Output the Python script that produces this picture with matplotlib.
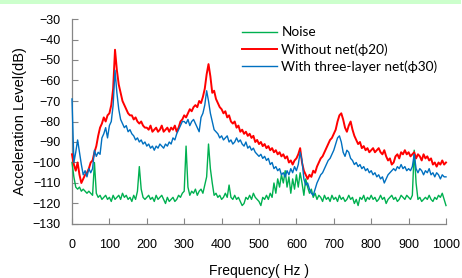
import numpy as np
import matplotlib
matplotlib.use("Agg")
import matplotlib.pyplot as plt
from matplotlib.patches import Rectangle

# frequency axis, 5 Hz steps
freq = np.arange(0, 1001, 5)

# Noise
noise = [
    -100, -107, -112, -113, -112, -114, -113, -114, -115, -114, -115, -116, -100, -115, -117, -116, -118, -117, -116, -118,
    -117, -119, -116, -118, -117, -116, -118, -115, -117, -116, -118, -117, -119, -116, -118, -114, -102, -113, -117, -118,
    -117, -116, -118, -117, -119, -116, -118, -117, -116, -118, -120, -117, -119, -118, -117, -119, -118, -116, -117, -115,
    -114, -92, -112, -116, -114, -115, -113, -116, -114, -113, -115, -111, -107, -91, -103, -110, -116, -115, -117, -116,
    -118, -117, -115, -117, -111, -117, -118, -116, -118, -117, -119, -121, -120, -117, -118, -116, -118, -115, -117, -118,
    -119, -121, -117, -118, -116, -118, -115, -117, -110, -115, -108, -112, -106, -110, -104, -112, -107, -115, -108, -113,
    -106, -112, -105, -110, -116, -108, -112, -115, -113, -117, -115, -118, -116, -117, -119, -116, -118, -117, -119, -116,
    -118, -117, -119, -116, -118, -117, -119, -118, -116, -118, -117, -120, -118, -121, -117, -118, -116, -119, -117, -118,
    -116, -118, -117, -119, -118, -116, -118, -117, -120, -118, -117, -116, -118, -117, -119, -118, -116, -117, -118, -116,
    -117, -118, -116, -94, -110, -118, -117, -119, -118, -117, -118, -116, -118, -119, -117, -118, -116, -117, -115, -118,
    -121,
]

# Without net (phi20)
without_net = [
    -96, -101, -104, -100, -106, -110, -108, -106, -105, -103, -100, -99, -95, -92, -87, -83, -81, -78, -80, -77,
    -76, -72, -64, -45, -55, -62, -66, -70, -72, -74, -76, -77, -77, -79, -78, -80, -81, -80, -82, -83,
    -83, -84, -82, -85, -84, -83, -85, -84, -82, -85, -84, -83, -85, -83, -84, -82, -85, -83, -80, -79,
    -77, -78, -76, -74, -75, -73, -72, -73, -70, -71, -68, -64, -57, -52, -58, -66, -65, -69, -71, -73,
    -74, -76, -75, -78, -77, -80, -81, -80, -83, -82, -85, -84, -86, -85, -87, -86, -88, -87, -90, -89,
    -91, -90, -92, -91, -93, -92, -94, -93, -95, -94, -96, -95, -97, -96, -98, -97, -100, -99, -101, -99,
    -98, -96, -93, -100, -104, -106, -108, -106, -107, -104, -105, -102, -100, -98, -97, -95, -93, -91, -89, -88,
    -86, -84, -80, -77, -76, -79, -83, -85, -82, -80, -84, -87, -89, -91, -90, -93, -92, -94, -93, -95,
    -94, -93, -95, -94, -93, -95, -96, -94, -97, -99, -98, -101, -100, -97, -96, -98, -95, -96, -94, -96,
    -95, -97, -96, -95, -98, -96, -97, -99, -96, -98, -97, -99, -98, -101, -100, -102, -100, -101, -99, -101,
    -100,
]

# With three-layer net (phi30)
three_layer = [
    -69, -100, -95, -89, -95, -101, -106, -104, -107, -103, -105, -103, -94, -97, -95, -96, -88, -86, -83, -88,
    -82, -80, -72, -55, -66, -74, -79, -81, -83, -82, -85, -84, -86, -87, -89, -88, -90, -89, -91, -90,
    -92, -91, -93, -92, -94, -92, -93, -91, -92, -93, -91, -92, -90, -91, -88, -89, -86, -84, -82, -80,
    -80, -81, -79, -82, -80, -79, -81, -83, -85, -78, -76, -72, -65, -70, -76, -80, -84, -85, -86, -88,
    -87, -89, -88, -87, -90, -89, -91, -90, -88, -90, -89, -91, -92, -90, -93, -92, -94, -93, -95, -96,
    -97, -96, -98, -97, -99, -98, -101, -100, -103, -102, -104, -103, -106, -105, -107, -104, -106, -103, -105, -102,
    -104, -101, -95, -99, -108, -111, -110, -113, -115, -116, -113, -110, -108, -106, -105, -103, -101, -99, -98, -96,
    -94, -91, -88, -87, -90, -95, -97, -94, -95, -98, -99, -101, -100, -102, -101, -103, -102, -104, -103, -105,
    -104, -106, -105, -107, -106, -108, -107, -110, -108, -106, -105, -104, -103, -104, -102, -103, -101, -103, -102, -104,
    -103, -104, -102, -96, -103, -105, -103, -104, -106, -104, -105, -103, -106, -105, -107, -105, -106, -108, -106, -107,
    -107,
]

series_names = ["Noise", "Without net(\u03d520)", "With three-layer net(\u03d530)"]

fig = plt.figure(figsize=(4.62, 2.78), dpi=100)
fig.patches.append(Rectangle((0, 1 - 4 / 278), 461 / 462, 4 / 278, transform=fig.transFigure,
                             facecolor="#ccffcc", edgecolor="none"))
ax = fig.add_axes([72 / 462, 1 - 224 / 278, 374 / 462, 205 / 278])

ax.plot(freq, noise, color="#00b050", lw=1.0, label=series_names[0], zorder=3, clip_on=False)
ax.plot(freq, without_net, color="#ff0000", lw=1.4, label=series_names[1], zorder=3, clip_on=False)
ax.plot(freq, three_layer, color="#0070c0", lw=1.0, label=series_names[2], zorder=3, clip_on=False)

ax.set_xlim(0, 1000)
ax.set_ylim(-130, -30)
ax.set_xticks(np.arange(0, 1001, 100))
ax.set_yticks(np.arange(-130, -29, 10))

for s in ["top", "right"]:
    ax.spines[s].set_visible(False)
for s in ["left", "bottom"]:
    ax.spines[s].set_color("#868686")
    ax.spines[s].set_linewidth(0.9)
ax.tick_params(axis="both", direction="in", length=4, color="#868686",
               labelsize=9, labelcolor="black")
ax.tick_params(axis="y", pad=8)
ax.tick_params(axis="x", pad=11)
for lab in ax.get_xticklabels() + ax.get_yticklabels():
    lab.set_family("Liberation Sans")

ax.set_xlabel("Frequency( Hz )", family="Liberation Sans", fontsize=10, labelpad=9)
ax.set_ylabel("Acceleration Level(dB)", family="Liberation Sans", fontsize=10.5, labelpad=4)

leg = ax.legend(loc="upper left", bbox_to_anchor=(0.44, 0.99), frameon=False,
                prop={"family": ["Lato", "DejaVu Sans"], "size": 9.8},
                handlelength=2.6, handletextpad=0.3, labelspacing=0.35, borderaxespad=0)

fig.savefig("out.png", dpi=100)
